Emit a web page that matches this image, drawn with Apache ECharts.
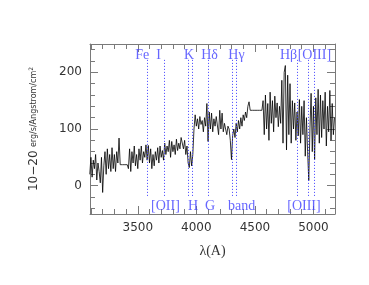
<!DOCTYPE html>
<html>
<head>
<meta charset="utf-8">
<script src="https://cdn.jsdelivr.net/npm/echarts@6/dist/echarts.min.js"></script>
<style>html,body{margin:0;padding:0;background:#fff}#c{width:369px;height:285px}</style>
</head>
<body>
<div id="c"></div>
<script>
// Spectrum flux (10^-20 erg/s/Angstrom/cm^2), sampled every 10 A from 3090 A
const startWavelength = 3090;
const stepWavelength = 10;
const flux = [
  20, 50, 15, 45, 30, 55, 10, 40, 25,
  5, 50, -12, 35, 60, 20, 65, 30, 55, 25,
  67, 30, 55, 25, 60, 40, 84, 37, 37, 37,
  37, 37, 37, 37, 30, 65, 25, 60, 40, 70,
  35, 55, 30, 65, 45, 70, 40, 60, 50, 72,
  45, 71, 40, 65, 30, 55, 35, 60, 45, 67,
  40, 70, 50, 62, 45, 75, 55, 70, 60, 80,
  50, 78, 60, 72, 55, 82, 62, 75, 65, 85,
  88, 65, 80, 55, 70, 40, 32, 60, 35, 55,
  100, 125, 105, 118, 100, 122, 108, 115, 95, 120,
  105, 145, 78, 130, 100, 128, 95, 118, 105, 122,
  125, 90, 133, 100, 128, 95, 110, 100, 90, 105,
  100, 80, 46, 88, 100, 85, 110, 95, 115, 100,
  120, 105, 125, 115, 130, 120, 140, 148, 133, 133,
  133, 133, 133, 133, 133, 133, 133, 133, 133, 150,
  90, 160, 100, 145, 80, 165, 110, 150, 95, 158,
  120, 146, 104, 140, 110, 186, 75, 200, 212, 63,
  195, 90, 180, 75, 150, 100, 146, 80, 130, 88,
  152, 75, 140, 90, 150, 52, 120, 60, 9, 100,
  163, 60, 140, 46, 155, 90, 170, 75, 160, 85,
  150, 100, 165, 70, 140, 95, 168, 80, 145, 90, 120
];

// Spectral line markers (Angstrom)
const lineWavelengths = [3581, 3727, 3934, 3969, 4102, 4304, 4340, 4861, 4959, 5007];
const lineTop = 222, lineBottom = -19;

// Labels above and below
const topLabels = ['Fe  I', 'K', 'Hδ', 'Hγ', 'Hβ', '[OIII]'];
const topLabelWl = [3588, 3938, 4113, 4343, 4787, 5008];
const topLabelY = 230;
const bottomLabels = ['[OII]', 'H', 'G', 'band', '[OIII]'];
const bottomLabelWl = [3736, 3972, 4117, 4386, 4919];
const bottomLabelY = -36;

// Axis ticks
const xMin = 3092, xMax = 5184;
const yMin = -50, yMax = 250;
const xMajorTicks = [3500, 4000, 4500, 5000];
const xMinorTicks = [3100,3200,3300,3400,3600,3700,3800,3900,4100,4200,4300,4400,4600,4700,4800,4900,5100];
const yMajorTicks = [0, 100, 200];
const yMinorTicks = [-40,-20,20,40,60,80,120,140,160,180,220,240];

const spectrum = flux.map((v, i) => [startWavelength + stepWavelength * i, v]);

const axisGray = '#7a7a7a';
const blue = '#4040ff';

function labelCfg(ticks) {
  return { show: true, customValues: ticks, color: '#333', fontFamily: 'DejaVu Sans', fontSize: 12, margin: 8, formatter: v => String(v) };
}
function xAx(pos, ticks, len, labels, showLine, extra) {
  return Object.assign({
    type: 'value', position: pos, min: xMin, max: xMax,
    axisLine: { show: showLine, onZero: false, lineStyle: { color: axisGray, width: 1 } },
    axisTick: { show: true, inside: true, length: len, customValues: ticks, lineStyle: { color: axisGray } },
    axisLabel: labels ? labelCfg(ticks) : { show: false },
    splitLine: { show: false }, minorTick: { show: false }
  }, extra || {});
}
function yAx(pos, ticks, len, labels, showLine, extra) {
  return Object.assign({
    type: 'value', position: pos, min: yMin, max: yMax,
    axisLine: { show: showLine, onZero: false, lineStyle: { color: axisGray, width: 1 } },
    axisTick: { show: true, inside: true, length: len, customValues: ticks, lineStyle: { color: axisGray } },
    axisLabel: labels ? labelCfg(ticks) : { show: false },
    splitLine: { show: false }, minorTick: { show: false }
  }, extra || {});
}

const chart = echarts.init(document.getElementById('c'), null, { renderer: 'canvas' });
chart.setOption({
  animation: false,
  backgroundColor: '#fff',
  grid: { left: 90, top: 44, width: 245, height: 170, containLabel: false },
  xAxis: [
    xAx('bottom', xMajorTicks, 8, true, true, {
      name: 'λ(A)', nameLocation: 'middle', nameGap: 30,
      nameTextStyle: { fontFamily: 'Liberation Serif', fontSize: 14, color: '#333' }
    }),
    xAx('bottom', xMinorTicks, 5, false, false),
    xAx('top', xMajorTicks, 8, false, true),
    xAx('top', xMinorTicks, 5, false, false)
  ],
  yAxis: [
    yAx('left', yMajorTicks, 8, true, true, {
      name: '{a|10−20} {b|erg/s/Angstrom/cm}{c|2}', nameLocation: 'middle', nameGap: 50, nameRotate: 90,
      nameTextStyle: {
        color: '#333',
        rich: {
          a: { fontFamily: 'DejaVu Sans', fontSize: 12, color: '#333' },
          b: { fontFamily: 'DejaVu Sans', fontSize: 8, color: '#333' },
          c: { fontFamily: 'DejaVu Sans', fontSize: 6, color: '#333', verticalAlign: 'top' }
        }
      }
    }),
    yAx('left', yMinorTicks, 5, false, false),
    yAx('right', yMajorTicks, 8, false, true),
    yAx('right', yMinorTicks, 5, false, false)
  ],
  series: [
    {
      type: 'line', xAxisIndex: 0, yAxisIndex: 0, data: spectrum,
      showSymbol: false, symbol: 'none', clip: true,
      lineStyle: { color: '#000', width: 0.8 },
      markLine: {
        silent: true, symbol: ['none', 'none'], label: { show: false },
        lineStyle: { color: blue, width: 1, type: [1, 2] },
        data: lineWavelengths.map(w => [{ coord: [w, lineTop] }, { coord: [w, lineBottom] }])
      },
      z: 3
    },
    {
      type: 'scatter', xAxisIndex: 0, yAxisIndex: 0, symbolSize: 0, silent: true,
      data: topLabels.map((t, i) => ({ name: t, value: [topLabelWl[i], topLabelY] }))
        .concat(bottomLabels.map((t, i) => ({ name: t, value: [bottomLabelWl[i], bottomLabelY] }))),
      label: {
        show: true, position: 'inside', formatter: '{b}', color: blue,
        fontFamily: 'Liberation Serif', fontSize: 14
      },
      z: 4
    }
  ]
});
</script>
</body>
</html>
